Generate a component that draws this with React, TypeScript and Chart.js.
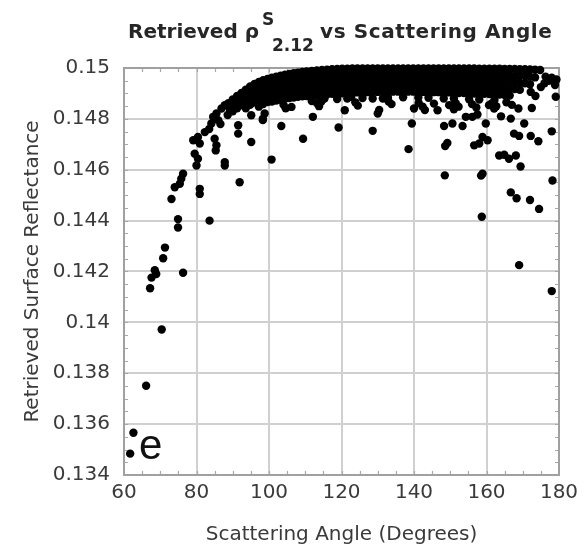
import React, { useEffect, useRef } from "react";
import { Chart, registerables } from "chart.js";

Chart.register(...registerables);

// ---- data: [scattering angle (deg), retrieved surface reflectance] ----
const risePoints: [number, number][] = [
  [61.7, 0.13484], [62.6, 0.13566], [66.1, 0.13751], [70.4, 0.13972],
  [67.2, 0.14134], [67.6, 0.14176], [68.5, 0.14205], [68.9, 0.1419],
  [70.8, 0.14252], [71.3, 0.14294], [76.3, 0.14195], [74.9, 0.14373],
  [74.9, 0.14406], [83.6, 0.144], [73.1, 0.14485], [74.0, 0.14531],
  [75.4, 0.14545], [76.3, 0.14584], [75.8, 0.14565], [80.9, 0.14525],
  [80.9, 0.14505], [80.4, 0.14643], [79.5, 0.14663], [80.0, 0.14617],
  [79.1, 0.14716], [80.4, 0.14729], [82.3, 0.14748], [80.9, 0.14703],
  [85.0, 0.14722], [85.5, 0.14696], [85.3, 0.14676], [87.8, 0.1463],
  [87.8, 0.14617], [91.9, 0.14551], [95.1, 0.14709], [91.5, 0.14775],
  [91.5, 0.14742], [84.1, 0.14782], [84.6, 0.14808], [85.5, 0.14821],
  [86.9, 0.14841], [87.8, 0.14854], [86.0, 0.14795], [86.6, 0.1478],
  [83.5, 0.1476], [88.8, 0.14862], [89.2, 0.14838], [88.6, 0.14815],
  [95.1, 0.14814], [98.3, 0.14801], [98.8, 0.14821], [100.7, 0.1464],
  [103.4, 0.14772], [109.4, 0.14722],
];

const bandLeft: [number, number][] = [
  [90.0, 0.14876], [90.0, 0.14852], [90.0, 0.1483],
  [91.2, 0.1489], [91.2, 0.14866], [91.2, 0.14842],
  [92.4, 0.14902], [92.4, 0.14878], [92.4, 0.14854],
  [93.6, 0.14915], [93.6, 0.1489], [93.6, 0.14866], [93.6, 0.14842],
  [94.8, 0.14927], [94.8, 0.14903], [94.8, 0.14879], [94.8, 0.14855],
  [96.0, 0.14937], [96.0, 0.14913], [96.0, 0.14889], [96.0, 0.14865],
  [97.2, 0.14945], [97.2, 0.14921], [97.2, 0.14897], [97.2, 0.14873], [97.2, 0.14848],
  [98.4, 0.14952], [98.4, 0.14928], [98.4, 0.14904], [98.4, 0.1488], [98.4, 0.14858],
  [99.6, 0.14957], [99.6, 0.14933], [99.6, 0.14909], [99.6, 0.14885], [99.6, 0.14866],
  [100.8, 0.14962], [100.8, 0.14938], [100.8, 0.14914], [100.8, 0.1489], [100.8, 0.14868],
  [102.0, 0.14966], [102.0, 0.14942], [102.0, 0.14918], [102.0, 0.14894], [102.0, 0.14872],
  [103.2, 0.1497], [103.2, 0.14946], [103.2, 0.14922], [103.2, 0.14898], [103.2, 0.14875],
  [104.4, 0.14974], [104.4, 0.1495], [104.4, 0.14926], [104.4, 0.14902], [104.4, 0.14879],
  [105.6, 0.14977], [105.6, 0.14953], [105.6, 0.14929], [105.6, 0.14905], [105.6, 0.14882],
  [106.8, 0.1498], [106.8, 0.14956], [106.8, 0.14932], [106.8, 0.14908], [106.8, 0.14884],
  [108.0, 0.14982], [108.0, 0.14958], [108.0, 0.14934], [108.0, 0.1491], [108.0, 0.14887],
  [109.2, 0.14984], [109.2, 0.1496], [109.2, 0.14936], [109.2, 0.14912], [109.2, 0.14889],
];

const bandMid: [number, number][] = [
  [110.4, 0.14986], [110.4, 0.14962], [110.4, 0.14938], [110.4, 0.14914], [110.4, 0.1489],
  [111.8, 0.14988], [111.8, 0.14964], [111.8, 0.1494], [111.8, 0.14916], [111.8, 0.14892], [111.8, 0.1487],
  [113.2, 0.1499], [113.2, 0.14966], [113.2, 0.14942], [113.2, 0.14918], [113.2, 0.14894],
  [114.6, 0.14992], [114.6, 0.14968], [114.6, 0.14944], [114.6, 0.1492], [114.6, 0.14896], [114.6, 0.14874],
  [116.0, 0.14993], [116.0, 0.14969], [116.0, 0.14945], [116.0, 0.14921], [116.0, 0.14897],
  [117.4, 0.14995], [117.4, 0.14971], [117.4, 0.14947], [117.4, 0.14923], [117.4, 0.14899],
  [118.8, 0.14996], [118.8, 0.14972], [118.8, 0.14948], [118.8, 0.14924], [118.8, 0.149], [118.8, 0.14878],
  [120.2, 0.14997], [120.2, 0.14973], [120.2, 0.14949], [120.2, 0.14925], [120.2, 0.14901],
  [121.6, 0.14997], [121.6, 0.14974], [121.6, 0.1495], [121.6, 0.14926], [121.6, 0.14902], [121.6, 0.1488],
  [123.0, 0.14998], [123.0, 0.14974], [123.0, 0.1495], [123.0, 0.14926], [123.0, 0.14903],
  [124.4, 0.14998], [124.4, 0.14975], [124.4, 0.14951], [124.4, 0.14927], [124.4, 0.14904],
  [125.8, 0.14998], [125.8, 0.14975], [125.8, 0.14951], [125.8, 0.14927], [125.8, 0.14904], [125.8, 0.14882],
  [127.2, 0.14998], [127.2, 0.14975], [127.2, 0.14952], [127.2, 0.14928], [127.2, 0.14905],
  [128.6, 0.14998], [128.6, 0.14976], [128.6, 0.14952], [128.6, 0.14928], [128.6, 0.14905], [128.6, 0.1488],
  [130.0, 0.14998], [130.0, 0.14976], [130.0, 0.14952], [130.0, 0.14929], [130.0, 0.14906],
  [131.4, 0.14998], [131.4, 0.14976], [131.4, 0.14953], [131.4, 0.14929], [131.4, 0.14906],
  [132.8, 0.14998], [132.8, 0.14976], [132.8, 0.14953], [132.8, 0.14929], [132.8, 0.14906], [132.8, 0.14884],
  [134.2, 0.14998], [134.2, 0.14976], [134.2, 0.14953], [134.2, 0.1493], [134.2, 0.14907],
  [135.6, 0.14998], [135.6, 0.14976], [135.6, 0.14953], [135.6, 0.1493], [135.6, 0.14907],
  [137.0, 0.14998], [137.0, 0.14976], [137.0, 0.14953], [137.0, 0.1493], [137.0, 0.14907], [137.0, 0.14885],
  [138.4, 0.14998], [138.4, 0.14976], [138.4, 0.14953], [138.4, 0.1493], [138.4, 0.14907],
  [139.8, 0.14998], [139.8, 0.14976], [139.8, 0.14953], [139.8, 0.1493], [139.8, 0.14907],
];

const bandRight: [number, number][] = [
  [141.2, 0.14998], [141.2, 0.14976], [141.2, 0.14953], [141.2, 0.1493], [141.2, 0.14907], [141.2, 0.14884],
  [142.6, 0.14998], [142.6, 0.14976], [142.6, 0.14953], [142.6, 0.14929], [142.6, 0.14906],
  [144.0, 0.14998], [144.0, 0.14976], [144.0, 0.14952], [144.0, 0.14929], [144.0, 0.14906], [144.0, 0.14883],
  [145.4, 0.14998], [145.4, 0.14975], [145.4, 0.14952], [145.4, 0.14929], [145.4, 0.14905],
  [146.8, 0.14998], [146.8, 0.14975], [146.8, 0.14952], [146.8, 0.14928], [146.8, 0.14905],
  [148.2, 0.14998], [148.2, 0.14975], [148.2, 0.14951], [148.2, 0.14928], [148.2, 0.14904], [148.2, 0.1488],
  [149.6, 0.14998], [149.6, 0.14975], [149.6, 0.14951], [149.6, 0.14927], [149.6, 0.14904],
  [151.0, 0.14998], [151.0, 0.14974], [151.0, 0.1495], [151.0, 0.14927], [151.0, 0.14903], [151.0, 0.1488],
  [152.4, 0.14998], [152.4, 0.14974], [152.4, 0.1495], [152.4, 0.14926], [152.4, 0.14902],
  [153.8, 0.14998], [153.8, 0.14974], [153.8, 0.1495], [153.8, 0.14926], [153.8, 0.14902],
  [155.2, 0.14998], [155.2, 0.14973], [155.2, 0.14949], [155.2, 0.14925], [155.2, 0.14901], [155.2, 0.14877],
  [156.6, 0.14998], [156.6, 0.14973], [156.6, 0.14949], [156.6, 0.14925], [156.6, 0.149],
  [158.0, 0.14997], [158.0, 0.14973], [158.0, 0.14949], [158.0, 0.14924], [158.0, 0.149], [158.0, 0.14876],
  [159.4, 0.14997], [159.4, 0.14972], [159.4, 0.14948], [159.4, 0.14924], [159.4, 0.14899],
  [160.8, 0.14997], [160.8, 0.14972], [160.8, 0.14948], [160.8, 0.14923], [160.8, 0.14898],
  [162.2, 0.14997], [162.2, 0.14972], [162.2, 0.14947], [162.2, 0.14922], [162.2, 0.14897], [162.2, 0.14874],
  [163.6, 0.14997], [163.6, 0.14971], [163.6, 0.14946], [163.6, 0.14921], [163.6, 0.14896],
  [165.0, 0.14996], [165.0, 0.14971], [165.0, 0.14946], [165.0, 0.1492], [165.0, 0.14894],
  [166.4, 0.14996], [166.4, 0.1497], [166.4, 0.14945], [166.4, 0.14919], [166.4, 0.14892],
  [167.8, 0.14996], [167.8, 0.1497], [167.8, 0.14944], [167.8, 0.14917],
  [169.2, 0.14995], [169.2, 0.14969], [169.2, 0.14942], [169.2, 0.14914],
  [170.6, 0.14995], [170.6, 0.14968], [170.6, 0.1494],
  [172.0, 0.14994], [172.0, 0.14966], [172.0, 0.14936],
  [173.4, 0.14993], [173.4, 0.14963],
  [174.8, 0.14992],
];

const outliers: [number, number][] = [
  [98.3, 0.14795], [104.0, 0.14856], [104.6, 0.14842], [106.2, 0.14847],
  [112.1, 0.14808], [113.2, 0.14862], [113.8, 0.1485], [114.4, 0.14867],
  [115.3, 0.1488], [119.2, 0.14766], [120.9, 0.14834], [122.7, 0.14887],
  [123.8, 0.14865], [124.5, 0.14852], [128.6, 0.14753], [130.0, 0.14821],
  [130.4, 0.14835], [131.4, 0.1488], [133.0, 0.14868], [133.8, 0.14858],
  [138.5, 0.14681], [139.4, 0.14782], [140.0, 0.14841], [141.3, 0.14862],
  [142.4, 0.14848], [143.0, 0.14835], [145.5, 0.1486], [146.5, 0.14834],
  [148.5, 0.14578], [148.6, 0.14693], [149.2, 0.14705], [148.3, 0.14772],
  [150.6, 0.14782], [149.7, 0.14854], [151.0, 0.14838], [151.5, 0.14862],
  [152.3, 0.14848], [153.4, 0.14772], [154.3, 0.14808], [156.1, 0.14808],
  [157.5, 0.14817], [156.0, 0.14858], [157.2, 0.14845], [156.6, 0.14696],
  [158.0, 0.14703], [158.9, 0.14729], [160.3, 0.14716], [159.8, 0.14782],
  [158.9, 0.14584], [158.5, 0.14577], [158.7, 0.14415], [160.7, 0.14854],
  [162.1, 0.14841], [161.3, 0.1486], [162.7, 0.1485], [164.0, 0.1481],
  [163.5, 0.14656], [164.9, 0.14659], [166.2, 0.14643], [168.1, 0.14656],
  [165.5, 0.14865], [167.0, 0.14855], [166.7, 0.14801], [167.6, 0.14742],
  [169.0, 0.14733], [168.8, 0.14841], [169.4, 0.14613], [170.4, 0.14782],
  [166.7, 0.14511], [168.3, 0.14488], [172.0, 0.14481], [174.5, 0.14446],
  [172.5, 0.14843], [172.2, 0.14733], [174.3, 0.14712], [172.2, 0.14906],
  [173.5, 0.1489], [175.0, 0.14925], [176.0, 0.1494], [177.2, 0.1495],
  [176.3, 0.14966], [178.0, 0.14962], [179.3, 0.14955], [178.9, 0.14933],
  [179.1, 0.14887], [178.0, 0.14751], [178.2, 0.14558], [169.0, 0.14225],
  [178.0, 0.14123],
];

const angleRange = [60, 180];
const angleStep = 20;
const angleMinorStep = 5;
const reflRange = [0.134, 0.15];
const reflStep = 0.002;
const reflMinorStep = 0.0005;

const W = 586;
const H = 550;
const FONT = "'DejaVu Sans', sans-serif";

const framePlugin = {
  id: "frameMinor",
  beforeDatasetsDraw(chart: any) {
    const { ctx, chartArea: a, scales } = chart;
    const xs = scales.x;
    const ys = scales.y;
    ctx.save();
    ctx.strokeStyle = "#a8a8a8";
    ctx.lineWidth = 1.2;
    ctx.beginPath();
    const nX = Math.round((angleRange[1] - angleRange[0]) / angleMinorStep);
    for (let i = 1; i < nX; i++) {
      const v = angleRange[0] + i * angleMinorStep;
      const px = Math.round(xs.getPixelForValue(v)) + 0.5;
      ctx.moveTo(px, a.bottom);
      ctx.lineTo(px, a.bottom - 4);
      ctx.moveTo(px, a.top);
      ctx.lineTo(px, a.top + 4);
    }
    const nY = Math.round((reflRange[1] - reflRange[0]) / reflMinorStep);
    for (let i = 1; i < nY; i++) {
      const v = reflRange[0] + i * reflMinorStep;
      const py = Math.round(ys.getPixelForValue(v)) + 0.5;
      ctx.moveTo(a.left, py);
      ctx.lineTo(a.left + 4, py);
      ctx.moveTo(a.right, py);
      ctx.lineTo(a.right - 4, py);
    }
    ctx.stroke();
    ctx.lineWidth = 2;
    ctx.strokeStyle = "#a0a0a0";
    ctx.strokeRect(a.left, a.top, a.right - a.left, a.bottom - a.top);
    ctx.restore();
  },
};

export default function App() {
  const ref = useRef<HTMLCanvasElement | null>(null);

  useEffect(() => {
    if (!ref.current) return;
    const pts = [...risePoints, ...bandLeft, ...bandMid, ...bandRight, ...outliers].map(
      ([x, y]) => ({ x, y })
    );
    const chart = new Chart(ref.current, {
      type: "scatter",
      data: {
        datasets: [
          {
            data: pts,
            pointRadius: 4.2,
            pointBackgroundColor: "#000",
            pointBorderWidth: 0,
            pointBorderColor: "#000",
            clip: false as any,
          },
        ],
      },
      options: {
        animation: false,
        responsive: false,
        events: [],
        layout: { padding: { top: 68, right: 27, left: 0, bottom: 0 } },
        plugins: { legend: { display: false }, tooltip: { enabled: false }, title: { display: false } },
        scales: {
          x: {
            type: "linear",
            min: angleRange[0],
            max: angleRange[1],
            afterFit: (s: any) => {
              s.height = 75;
            },
            ticks: {
              stepSize: angleStep,
              padding: 6,
              color: "#3a3a3a",
              font: { family: FONT, size: 20 },
              maxRotation: 0,
            },
            grid: { color: "#d0d0d0", lineWidth: 2, drawTicks: false },
            border: { display: false },
            title: {
              display: true,
              text: "Scattering Angle (Degrees)",
              color: "#3a3a3a",
              font: { family: FONT, size: 20 },
              padding: { top: 0, bottom: 3 },
            },
          },
          y: {
            type: "linear",
            min: reflRange[0],
            max: reflRange[1],
            afterFit: (s: any) => {
              s.width = 124;
            },
            ticks: {
              stepSize: reflStep,
              padding: 14,
              color: "#3a3a3a",
              font: { family: FONT, size: 20 },
              callback: (v: any) => String(Number(Number(v).toFixed(3))),
            },
            grid: { color: "#d0d0d0", lineWidth: 2, drawTicks: false },
            border: { display: false },
            title: {
              display: true,
              text: "Retrieved Surface Reflectance",
              color: "#3a3a3a",
              font: { family: FONT, size: 20 },
              padding: { top: 21, bottom: 0 },
            },
          },
        },
      },
      plugins: [framePlugin],
    });
    return () => chart.destroy();
  }, []);

  const titleStyle: React.CSSProperties = {
    position: "absolute",
    fontFamily: FONT,
    fontWeight: "bold",
    color: "#262626",
    whiteSpace: "nowrap",
    lineHeight: "20px",
  };

  return (
    <div style={{ position: "fixed", left: 0, top: 0, width: W, height: H, background: "#fff" }}>
      <canvas ref={ref} width={W} height={H} style={{ position: "absolute", left: 0, top: 0 }} />
      <span style={{ ...titleStyle, left: 128, top: 21, fontSize: 20 }}>Retrieved ρ</span>
      <span style={{ ...titleStyle, left: 262, top: 9, fontSize: 17 }}>S</span>
      <span style={{ ...titleStyle, left: 272, top: 35, fontSize: 17 }}>2.12</span>
      <span style={{ ...titleStyle, left: 320, top: 21, fontSize: 20, letterSpacing: "0.6px" }}>
        vs Scattering Angle
      </span>
      <span
        style={{
          position: "absolute",
          left: 139,
          top: 420,
          fontFamily: "'Liberation Sans', Arial, sans-serif",
          fontSize: 42,
          lineHeight: "50px",
          color: "#111",
        }}
      >
        e
      </span>
    </div>
  );
}
